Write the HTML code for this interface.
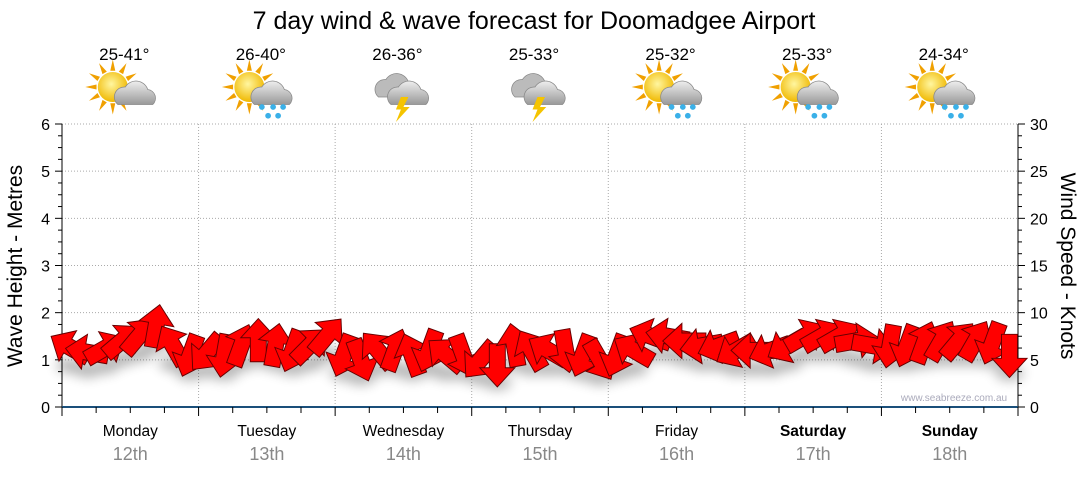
<!DOCTYPE html>
<html><head><meta charset="utf-8"><style>
body{margin:0;background:#fff;font-family:"Liberation Sans",sans-serif}
svg text{font-family:"Liberation Sans",sans-serif}
</style></head><body>
<svg width="1080" height="475" viewBox="0 0 1080 475">
<defs>
<radialGradient id="sun" cx="0.45" cy="0.4" r="0.6"><stop offset="0" stop-color="#fff6a0"/><stop offset="1" stop-color="#f0b800"/></radialGradient>
<linearGradient id="cloud" x1="0" y1="0" x2="0" y2="1"><stop offset="0" stop-color="#eee"/><stop offset="1" stop-color="#999"/></linearGradient>
<filter id="sh" x="-50%" y="-50%" width="200%" height="200%"><feGaussianBlur stdDeviation="6"/></filter>
</defs>
<text x="534" y="29" font-size="25" text-anchor="middle" fill="#000">7 day wind &amp; wave forecast for Doomadgee Airport</text>
<g id="grid"></g>
<g id="axes"></g>
<g id="shadow" filter="url(#sh)" opacity="0.3"></g>
<g id="arrows"></g>
<g id="icons"></g>
<text x="954" y="401" font-size="10" fill="#aab" text-anchor="middle">www.seabreeze.com.au</text>
<text transform="translate(22,266) rotate(-90)" font-size="21" text-anchor="middle">Wave Height - Metres</text>
<text transform="translate(1061,266) rotate(90)" font-size="21" text-anchor="middle">Wind Speed - Knots</text>
</svg>
<script>
const days=["Monday","Tuesday","Wednesday","Thursday","Friday","Saturday","Sunday"];
const dates=["12th","13th","14th","15th","16th","17th","18th"];
const temps=["25-41°","26-40°","26-36°","25-33°","25-32°","25-33°","24-34°"];
const icons=["cloud","rain","storm","storm","rain","rain","rain"];
const waveTicks=[0,1,2,3,4,5,6];
const knotTicks=[0,5,10,15,20,25,30];
const windSpeed=[6.3,5.8,6.2,7,7.5,8.5,6.5,5.5, 5.8,5.5,6.5,7,6.5,6,6.5,7.5, 5.5,5,6,6,5.5,6,5.5,5.5, 5,4.5,6.5,6,6,6,5.5,5, 5.5,6,7.5,7.5,7,6.5,6.5,6, 6,6,6.5,7.5,7.5,7.5,7,6.5, 6.5,6.5,6.8,7,7,7,6.8,5.5];
const windDir=[300,280,60,50,40,10,330,200, 220,190,20,0,10,200,45,40, 200,160,320,20,340,200,310,160, 220,180,350,330,300,170,200,150, 200,300,290,280,270,260,250,240, 270,250,240,60,60,60,80,100, 190,200,20,30,40,30,200,180];
const svg=document.querySelector('svg');
const NS="http://www.w3.org/2000/svg";
const X0=62,X1=1018,Y0=407,Y1=124;
const dayW=(X1-X0)/7;
const yWave=v=>Y0-(v/6)*(Y0-Y1);
const yKnot=v=>Y0-(v/30)*(Y0-Y1);
const xT=i=>X0+(i+0.5)*dayW/8;
function mk(tag,attrs,parent){const e=document.createElementNS(NS,tag);for(const k in attrs)e.setAttribute(k,attrs[k]);document.getElementById(parent).appendChild(e);return e;}
waveTicks.forEach(v=>{if(v>0){const l=mk('line',{x1:X0,x2:X1,y1:yWave(v),y2:yWave(v),stroke:'#aaa','stroke-dasharray':'1,2'},'grid');

}});
for(let d=1;d<7;d++){const l=mk('line',{x1:X0+d*dayW,x2:X0+d*dayW,y1:Y1,y2:Y0,stroke:'#aaa','stroke-dasharray':'1,2'},'grid');

}
mk('line',{x1:X0,x2:X0,y1:Y1,y2:Y0,stroke:'#000'},'axes');
mk('line',{x1:X1,x2:X1,y1:Y1,y2:Y0,stroke:'#000'},'axes');
mk('line',{x1:X0,x2:X1,y1:Y0,y2:Y0,stroke:'#1a4f7a','stroke-width':2},'axes');
for(let v=0;v<=6;v+=0.25){const y=yWave(v);const maj=v%1===0;mk('line',{x1:X0-(maj?7:4),x2:X0,y1:y,y2:y,stroke:'#000'},'axes');}
waveTicks.forEach(v=>{const t=mk('text',{x:X0-12,y:yWave(v)+6,'font-size':16,'text-anchor':'end'},'axes');t.textContent=v;

});
for(let v=0;v<=30;v+=1.25){const y=yKnot(v);const maj=v%5===0;mk('line',{x1:X1,x2:X1+(maj?7:4),y1:y,y2:y,stroke:'#000'},'axes');}
knotTicks.forEach(v=>{const t=mk('text',{x:X1+12,y:yKnot(v)+6,'font-size':16},'axes');t.textContent=v;

});
for(let i=0;i<=28;i++){const x=X0+i*dayW/4;const maj=i%4===0;mk('line',{x1:x,x2:x,y1:Y0,y2:Y0+(maj?9:6),stroke:'#000'},'axes');}
days.forEach((d,i)=>{const cx=X0+(i+0.5)*dayW;
const t=mk('text',{x:cx,y:436,'font-size':15.5,'text-anchor':'middle','font-weight':i>=5?'bold':'normal'},'axes');t.textContent=d;


const t2=mk('text',{x:cx,y:460,'font-size':18,'text-anchor':'middle',fill:'#888'},'axes');t2.textContent=dates[i];


const t3=mk('text',{x:cx-6,y:60,'font-size':17,'text-anchor':'middle'},'icons');t3.textContent=temps[i];


const g=mk('g',{transform:`translate(${cx-10},92) scale(1.25)`},'icons');


let h='';
if(icons[i]!=='storm'){for(let a=0;a<360;a+=30)h+=`<polygon points="-2,-13 2,-13 0,-22" fill="#f0a000" transform="translate(-6,-4) rotate(${a})"/>`;h+=`<circle cx="-6" cy="-4" r="12" fill="url(#sun)"/>`;h+=`<path d="M-2,10 a8,8 0 0 1 6,-14 a10,10 0 0 1 18,2 a7,7 0 0 1 4,12 z" fill="url(#cloud)" stroke="#888" stroke-width="0.6"/>`;}
else{h+=`<path d="M-12,4 a8,8 0 0 1 6,-14 a10,10 0 0 1 18,2 a7,7 0 0 1 4,12 z" fill="#bbb" stroke="#888" stroke-width="0.6"/><path d="M-2,10 a8,8 0 0 1 6,-14 a10,10 0 0 1 18,2 a7,7 0 0 1 4,12 z" fill="url(#cloud)" stroke="#888" stroke-width="0.6"/><polygon points="6,4 12,4 8,12 13,12 2,24 6,14 2,14" fill="#f5c400"/>`;}
if(icons[i]==='rain')h+=`<circle cx="4" cy="12" r="2.3" fill="#3ab0e8"/><circle cx="13" cy="12" r="2.3" fill="#3ab0e8"/><circle cx="21" cy="12" r="2.3" fill="#3ab0e8"/><circle cx="9" cy="19" r="2.3" fill="#3ab0e8"/><circle cx="17" cy="19" r="2.3" fill="#3ab0e8"/>`;
g.innerHTML=h;});
const shape="M0,-14 L11,-2 L5,-2 L5,13 L-5,13 L-5,-2 L-11,-2 Z";
windSpeed.forEach((s,i)=>{const x=xT(i),y=yKnot(s);
mk('ellipse',{cx:x,cy:y+18,rx:14,ry:7,fill:'#000'},'shadow');
const a=mk('path',{d:shape,fill:'#ff0000',stroke:'#600','stroke-width':0.6,transform:`translate(${x},${y}) rotate(${windDir[i]}) scale(1.6)`},'arrows');

});
</script>
</body></html>
